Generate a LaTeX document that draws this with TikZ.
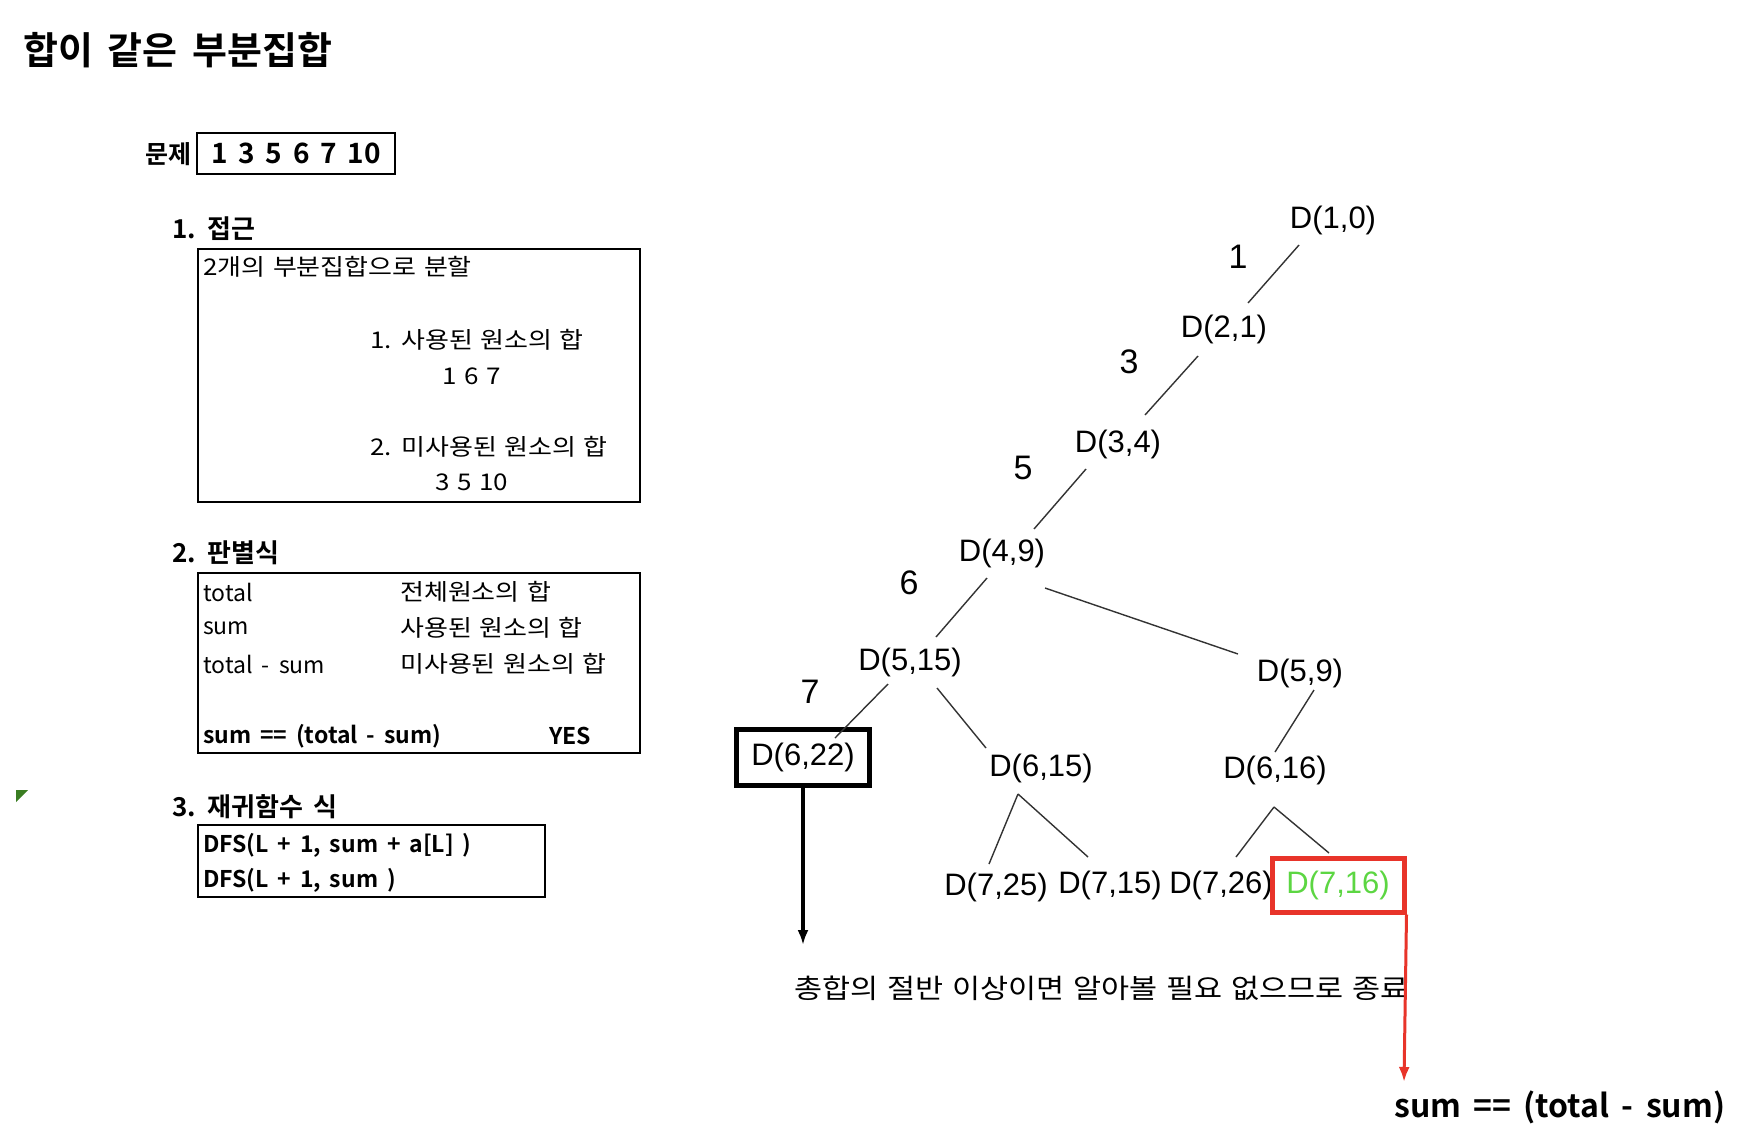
\documentclass[tikz,border=0pt]{standalone}
\usepackage{fontspec}
\usetikzlibrary{arrows.meta,calc}
\newfontfamily\krfont{Noto Sans CJK KR}[FakeStretch=1.13,WordSpace=1.3]
\newfontfamily\latfont{Noto Sans CJK KR}[WordSpace=1.8]
\newfontfamily\krbfont{Noto Sans CJK KR Bold}[WordSpace=1.7]
\newfontfamily\dfont{Liberation Sans}
\definecolor{hitred}{HTML}{E8342A}
\definecolor{hitgreen}{HTML}{5CD642}
\definecolor{markgreen}{HTML}{3A7D22}
\tikzset{
	kr/.style={font=\krfont\fontsize{#1}{#1}\selectfont},
	lat/.style={font=\latfont\fontsize{#1}{#1}\selectfont},
	krb/.style={font=\krbfont\fontsize{#1}{#1}\selectfont},
	txt/.style={kr=23,anchor=west,inner sep=0pt},
	txtb/.style={krb=23,anchor=west,inner sep=0pt},
	sec/.style={krb=26,anchor=west,inner sep=0pt},
	frame/.style={draw,line width=1.5pt},
	dn/.style={font=\dfont\fontsize{31}{31}\selectfont,inner sep=0pt},
	wt/.style={font=\dfont\fontsize{34}{34}\selectfont,inner sep=0pt},
	branch/.style={draw=black!80,line width=1.4pt},
}
\begin{document}
\begin{tikzpicture}[x=1pt,y=-1pt,>={Latex[length=15pt,width=11pt]}]
	\path[use as bounding box,fill=white] (0,0) rectangle (1750,1144);
	\begin{scope}
		\node[krb=38,anchor=west,inner sep=0pt] (title) at (23,50) {합이 같은 부분집합};
		\node[krb=25,anchor=west,inner sep=0pt] (q) at (145,154) {문제};
		\node[krb=28,frame,minimum width=198pt,minimum height=41pt,inner sep=0pt] (qset) at (296,153.5) {1 3 5 6 7 10};
		\fill[markgreen] (16,790) -- (28,790) -- (16,802) -- cycle;
	\end{scope}
	\begin{scope}
		\node[sec] (s1) at (172,229) {1. 접근};
		\draw[frame] (198,249) rectangle (640,502);
		\node[txt] (split) at (203,267) {2개의 부분집합으로 분할};
		\node[txt] (used) at (370,340) {1. 사용된 원소의 합};
		\node[txt] (usedv) at (442,376) {1 6 7};
		\node[txt] (unused) at (370,447) {2. 미사용된 원소의 합};
		\node[txt] (unusedv) at (435,482) {3 5 10};
	\end{scope}
	\begin{scope}
		\node[sec] (s2) at (172,553) {2. 판별식};
		\draw[frame] (198,573) rectangle (640,753);
		\foreach \y/\a/\b in {592/total/전체원소의 합,628/sum/사용된 원소의 합,664/total - sum/미사용된 원소의 합}
			{
				\node[lat=23,anchor=west,inner sep=0pt] (l\y) at (203,\y) {\a};
				\node[txt] (r\y) at (400,\y) {\b};
			}
		;
		\node[txtb] (test) at (203,736) {sum == (total - sum)};
		\node[txtb] (yes) at (549,736) {YES};
	\end{scope}
	\begin{scope}
		\node[sec] (s3) at (172,807) {3. 재귀함수 식};
		\draw[frame] (198,825) rectangle (545,897);
		\node[txtb] (take) at (203,845) {DFS(L + 1, sum + a[L] )};
		\node[txtb] (skip) at (203,880) {DFS(L + 1, sum )};
	\end{scope}
	\begin{scope}
		\node[dn] (d10) at (1333,220) {D(1,0)};
		\node[dn] (d21) at (1224,329) {D(2,1)};
		\node[dn] (d34) at (1118,444) {D(3,4)};
		\node[dn] (d49) at (1002,553) {D(4,9)};
		\node[dn] (d515) at (910,662) {D(5,15)};
		\node[dn] (d59) at (1300,673) {D(5,9)};
		\node[dn,draw,line width=5pt,minimum width=133pt,minimum height=56pt] (d622) at (803,757.5) {D(6,22)};
		\node[dn] (d615) at (1041,768) {D(6,15)};
		\node[dn] (d616) at (1275,770) {D(6,16)};
		\node[dn] (d725) at (996,887) {D(7,25)};
		\node[dn] (d715) at (1110,885) {D(7,15)};
		\node[dn] (d726) at (1221,885) {D(7,26)};
		\node[dn,draw=hitred,text=hitgreen,line width=5pt,minimum width=132pt,minimum height=54pt] (d716) at (1338,885) {D(7,16)};
		\foreach \n/\x/\y in {1/1238/257,3/1129/362,5/1023/468,6/909/583,7/810/692}
			\node[wt] (w\n) at (\x,\y) {\n}
		;
	\end{scope}
	\begin{scope}[branch]
		\draw
			($(d10)+(-34,25)$) -- ($(d21)+(24,-26)$)
			($(d21)+(-26,27)$) -- ($(d34)+(27,-29)$)
			($(d34)+(-32,25)$) -- ($(d49)+(32,-24)$)
			($(d49)+(-15,25)$) -- ($(d515)+(26,-25)$)
			($(d49)+(43,35)$) -- ($(d59)+(-62,-19)$)
			($(d515)+(-22,22)$) -- ($(d622)+(32,-19.5)$)
			($(d515)+(27,26)$) -- ($(d615)+(-55,-20)$)
			($(d59)+(14,17)$) -- ($(d616)+(0,-18)$)
			($(d615)+(-23,26)$) -- ($(d725)+(-7,-23)$)
			($(d615)+(-23,26)$) -- ($(d715)+(-22,-28)$)
			($(d616)+(-1,37)$) -- ($(d726)+(15,-28)$)
			($(d616)+(-1,37)$) -- ($(d716)+(-9,-32)$)
		;
	\end{scope}
	\begin{scope}
		\node[kr=27,anchor=west,inner sep=0pt] (note) at (794,988) {총합의 절반 이상이면 알아볼 필요 없으므로 종료};
		\node[krb=32,anchor=west,inner sep=0pt] (result) at (1394,1107) {sum == (total - sum)};
		\coordinate (stop) at (803,945);
		\coordinate (goal) at (1404,1082);
		\draw[->,line width=4pt] (d622.south) -- (stop);
		\draw[->,hitred,line width=3pt] (d716.south east) -- (goal);
	\end{scope}
\end{tikzpicture}
\end{document}
